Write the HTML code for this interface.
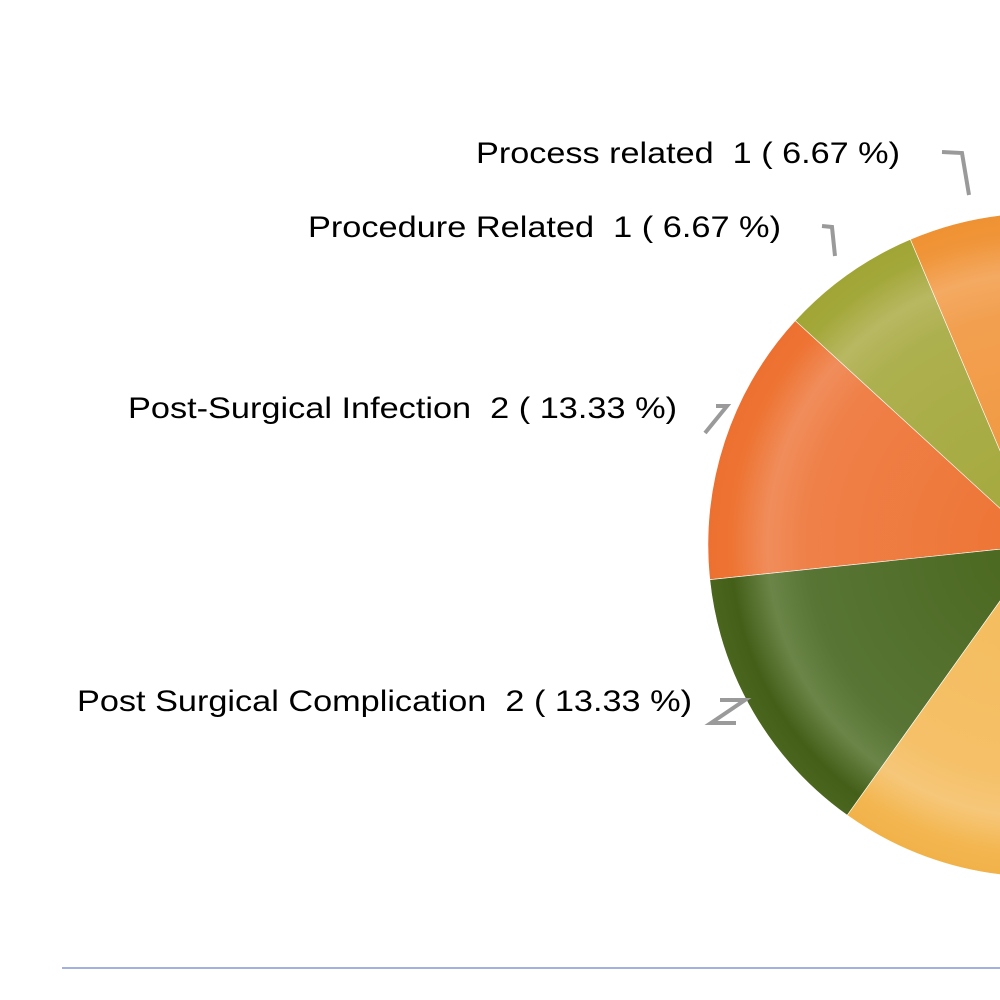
<!DOCTYPE html>
<html><head><meta charset="utf-8"><style>html,body{margin:0;padding:0;background:#fff;}svg{display:block}</style></head>
<body>
<svg width="1000" height="1000" viewBox="0 0 1000 1000" xmlns="http://www.w3.org/2000/svg">
<defs>
<radialGradient id="g1" gradientUnits="userSpaceOnUse" cx="1040" cy="545" r="332"><stop offset="0" stop-color="#f0953a"/><stop offset="0.7" stop-color="#f2a050"/><stop offset="0.82" stop-color="#f4aa62"/><stop offset="0.93" stop-color="#f0953a"/><stop offset="1" stop-color="#ef9232"/></radialGradient>
<radialGradient id="g2" gradientUnits="userSpaceOnUse" cx="1040" cy="545" r="332"><stop offset="0" stop-color="#a3a83a"/><stop offset="0.7" stop-color="#adb04e"/><stop offset="0.82" stop-color="#b8b862"/><stop offset="0.93" stop-color="#a3a83a"/><stop offset="1" stop-color="#a0a535"/></radialGradient>
<radialGradient id="g3" gradientUnits="userSpaceOnUse" cx="1040" cy="545" r="332"><stop offset="0" stop-color="#ee7433"/><stop offset="0.7" stop-color="#ef8048"/><stop offset="0.82" stop-color="#f08d5b"/><stop offset="0.93" stop-color="#ee7433"/><stop offset="1" stop-color="#ed7030"/></radialGradient>
<radialGradient id="g4" gradientUnits="userSpaceOnUse" cx="1040" cy="545" r="332"><stop offset="0" stop-color="#4a671d"/><stop offset="0.7" stop-color="#587535"/><stop offset="0.82" stop-color="#6a8547"/><stop offset="0.93" stop-color="#445f18"/><stop offset="1" stop-color="#4a661e"/></radialGradient>
<radialGradient id="g5" gradientUnits="userSpaceOnUse" cx="1040" cy="545" r="332"><stop offset="0" stop-color="#f4bb5a"/><stop offset="0.7" stop-color="#f5c068"/><stop offset="0.82" stop-color="#f6c779"/><stop offset="0.93" stop-color="#f3b650"/><stop offset="1" stop-color="#f2b24a"/></radialGradient>
</defs>
<path d="M1040,545 L1045.8,213 A332,332 0 0 0 910.3,239.4 Z" fill="url(#g1)" stroke="#fff" stroke-width="0.6"/>
<path d="M1040,545 L910.3,239.4 A332,332 0 0 0 795.2,320.7 Z" fill="url(#g2)" stroke="#fff" stroke-width="0.6"/>
<path d="M1040,545 L795.2,320.7 A332,332 0 0 0 709.8,579.7 Z" fill="url(#g3)" stroke="#fff" stroke-width="0.6"/>
<path d="M1040,545 L709.8,579.7 A332,332 0 0 0 847.2,815.3 Z" fill="url(#g4)" stroke="#fff" stroke-width="0.6"/>
<path d="M1040,545 L847.2,815.3 A332,332 0 0 0 1372,545 Z" fill="url(#g5)" stroke="#fff" stroke-width="0.6"/>
<path d="M1040,545 L1372,545 A332,332 0 0 0 1045.8,213 Z" fill="url(#g3)"/>
<g stroke="#9a9a9a" stroke-width="4" fill="none">
<polyline points="942,152 962,153 969,195"/>
<polyline points="822,226 832,227 835,256"/>
<polyline points="705,433 727,406 716,406"/>
<polyline points="720,700 745,700 711,723 736,723"/>
</g>
<g font-family="Liberation Sans, Arial, sans-serif" font-size="30" fill="#000" text-anchor="end">
<text x="900" y="163" textLength="424" lengthAdjust="spacingAndGlyphs">Process related &#160;1 ( 6.67 %)</text>
<text x="781" y="237" textLength="473" lengthAdjust="spacingAndGlyphs">Procedure Related &#160;1 ( 6.67 %)</text>
<text x="677" y="418" textLength="549" lengthAdjust="spacingAndGlyphs">Post-Surgical Infection &#160;2 ( 13.33 %)</text>
<text x="692" y="711" textLength="615" lengthAdjust="spacingAndGlyphs">Post Surgical Complication &#160;2 ( 13.33 %)</text>
</g>
<line x1="62" y1="968" x2="1000" y2="968" stroke="#a3b0e0" stroke-width="2"/>
</svg>
</body></html>
